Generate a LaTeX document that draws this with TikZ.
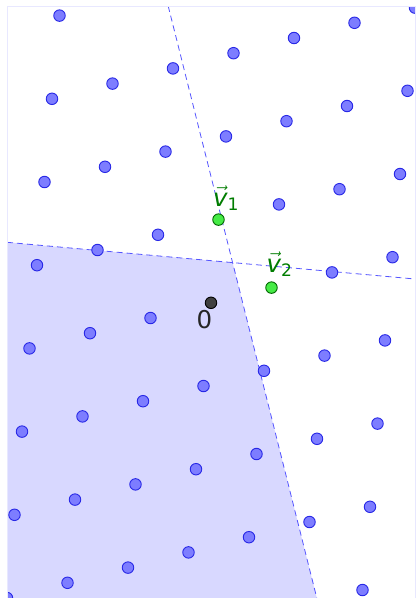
\documentclass[tikz,border=0pt]{standalone}
\usepackage{amsmath}
\usepackage{fontspec}
\setmainfont{DejaVu Sans}
\definecolor{ptfill}{RGB}{125,125,255}
\definecolor{ptdraw}{RGB}{40,40,230}
\definecolor{gfill}{RGB}{70,235,70}
\definecolor{gdraw}{RGB}{0,100,0}
\definecolor{gtext}{RGB}{0,125,0}
\definecolor{regfill}{RGB}{216,216,255}
\definecolor{dashcol}{RGB}{85,85,255}
\definecolor{framecol}{RGB}{232,232,255}
\definecolor{ofill}{RGB}{64,64,64}
\tikzset{
  latpt/.style={circle,fill=ptfill,draw=ptdraw,line width=0.9pt,inner sep=0pt,minimum size=11.5pt},
  greenpt/.style={circle,fill=gfill,draw=gdraw,line width=0.9pt,inner sep=0pt,minimum size=11.5pt},
  originpt/.style={circle,fill=ofill,draw=black,line width=0.9pt,inner sep=0pt,minimum size=11.5pt},
  bisector/.style={draw=dashcol,line width=0.8pt,dash pattern=on 6pt off 4pt},
  lab/.style={inner sep=0pt,font=\fontsize{24.5}{28}\selectfont},
}
\begin{document}
\begin{tikzpicture}[x=1pt,y=-1pt]
\useasboundingbox (0,0) rectangle (416,598);
\fill[white] (0,0) rectangle (416,598);
\begin{scope}
\clip (7,6) rectangle (415,604);
% region
\coordinate (L2a) at (7,242.3);
\coordinate (L2b) at (415,279);
\coordinate (L1a) at (168.2,6);
\coordinate (X) at (232.6,262.6);
\coordinate (BL) at (7,604);
\coordinate (BR) at (318.3,604);
\fill[regfill] (L2a) -- (X) -- (BR) -- (BL) -- cycle;
\draw[bisector] (L1a) -- (BR);
\draw[bisector] (L2a) -- (L2b);
% lattice points
\foreach \i in {-4,...,4}{
  \foreach \j in {-4,...,4}{
    \pgfmathsetmacro{\px}{211+60.5*\i-7.5*\j}
    \pgfmathsetmacro{\py}{302.8-15.2*\i+83.2*\j}
    \pgfmathtruncatemacro{\skip}{(\i==0 && \j==0) || (\i==1 && \j==0) || (\i==0 && \j==-1) ? 1 : 0}
    \ifnum\skip=0
      \node[latpt] (p\i\j) at (\px,\py) {};
    \fi
  }
}
\node[originpt] (O) at (211,302.8) {};
\node[greenpt] (v1) at (218.5,219.6) {};
\node[greenpt] (v2) at (271.5,287.6) {};
\end{scope}
\draw[framecol,line width=1pt] (7,604) -- (7,6) -- (415,6) -- (415,604);
\node[lab,text=black!85] (lo) at (204.5,319.5) {0};
\node[lab,text=gtext] (lv1) at (226,198) {$\vec{\text{\itshape v}}_{\text{1}}$};
\node[lab,text=gtext] (lv2) at (279.5,264.5) {$\vec{\text{\itshape v}}_{\text{2}}$};
\end{tikzpicture}
\end{document}
